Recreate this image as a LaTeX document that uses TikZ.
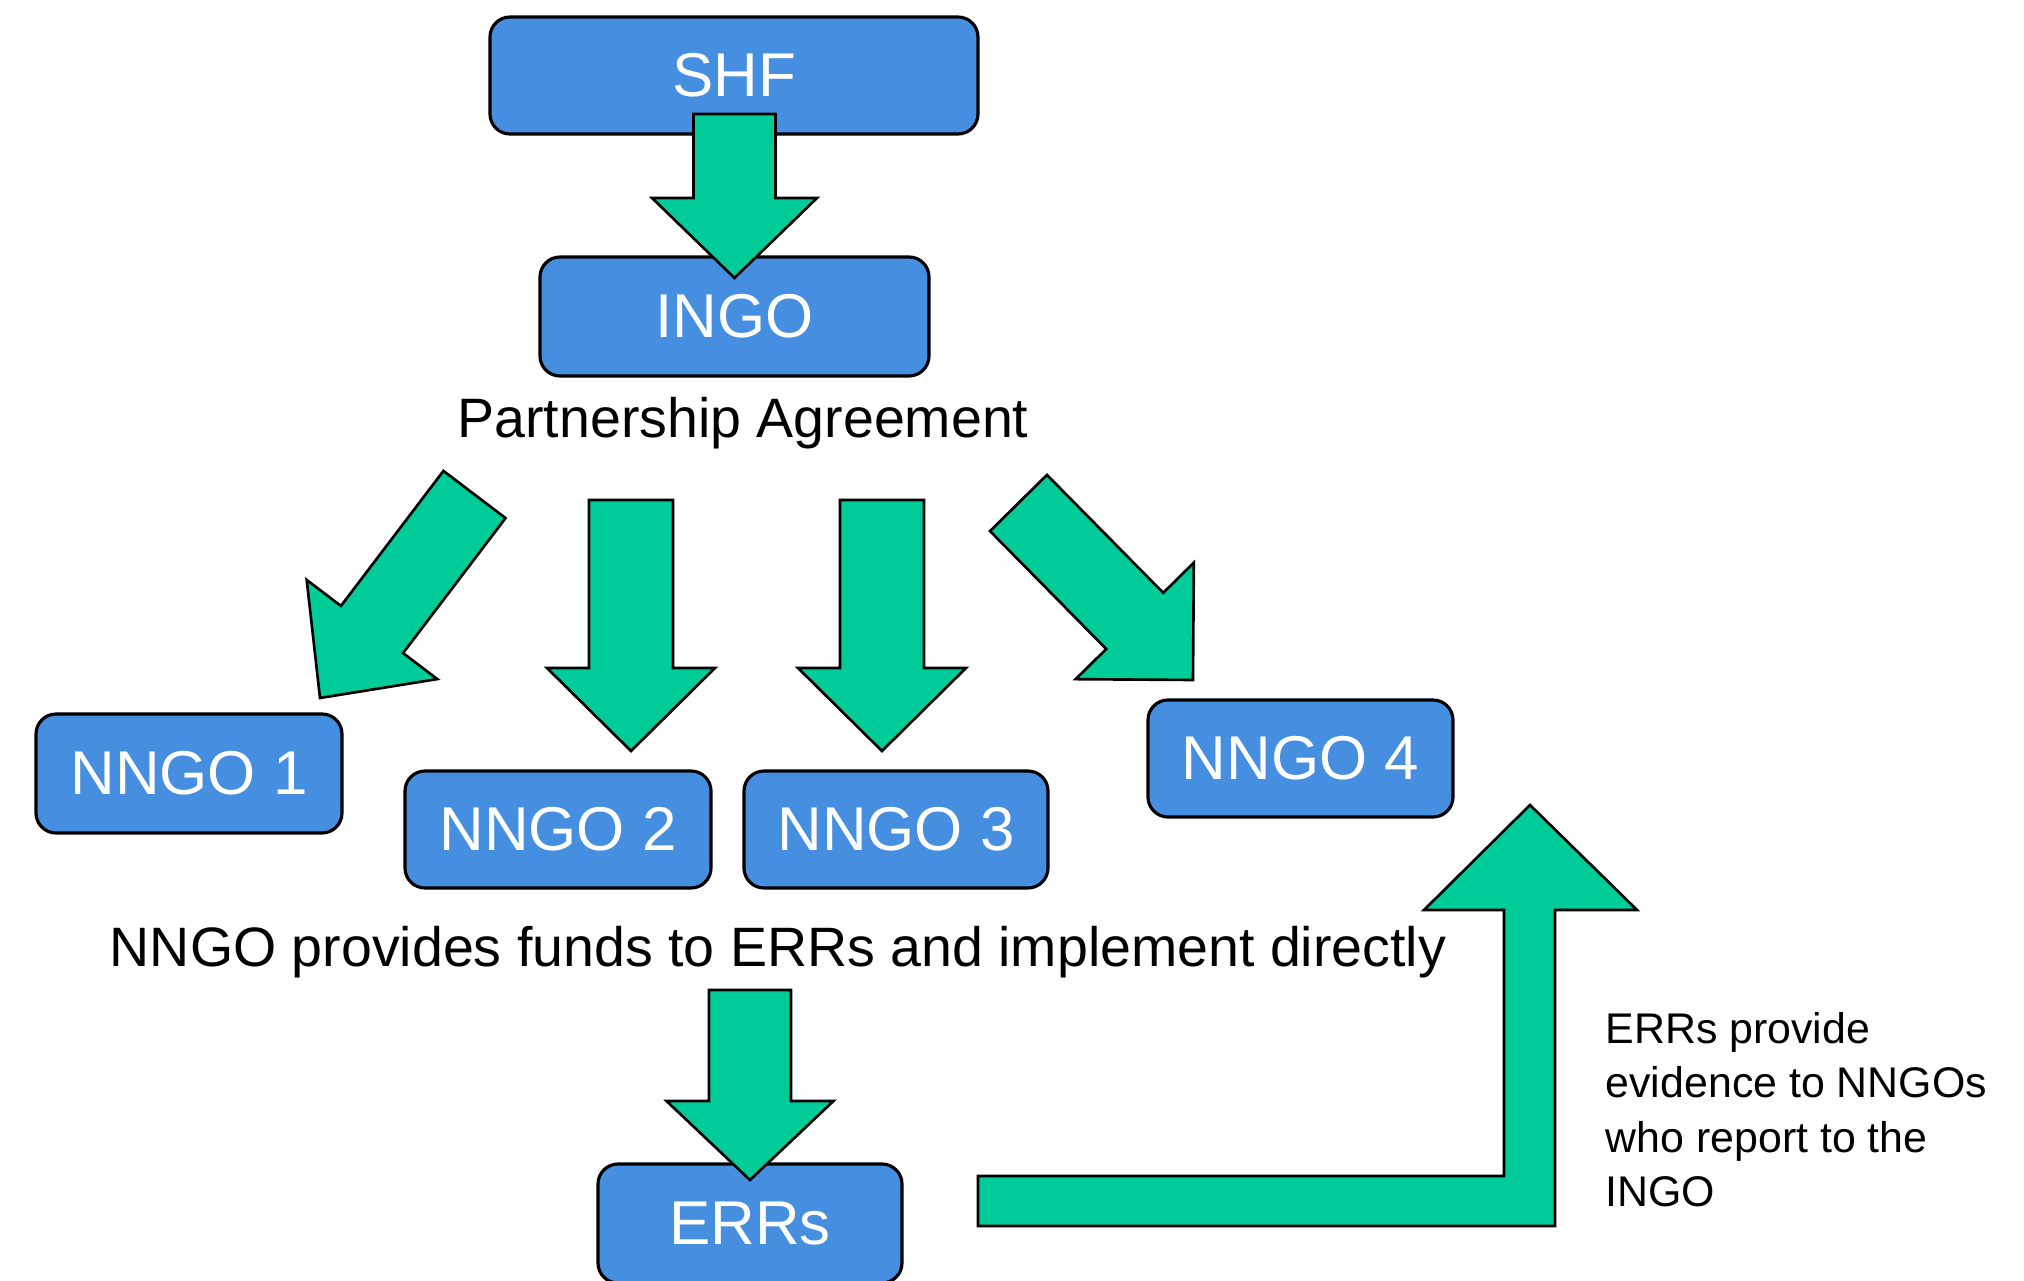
\documentclass[tikz,border=0pt]{standalone}
\usepackage{fontspec}
\setmainfont{Liberation Sans}
\usetikzlibrary{calc}
\definecolor{boxblue}{RGB}{69,142,224}
\definecolor{flowgreen}{RGB}{0,204,153}
\tikzset{
    orgbox/.style={draw=black, line width=0.9pt, fill=boxblue, rounded corners=2mm,
        text=white, inner sep=0pt, font=\fontsize{17.6}{21}\selectfont},
    flowarrow/.style={draw=black, line width=0.75pt, fill=flowgreen, line join=miter},
    caption/.style={inner sep=0pt, font=\fontsize{15.8}{19}\selectfont},
    sidenote/.style={inner sep=0pt, align=left, font=\fontsize{12.2}{15.4}\selectfont}
}
% fat arrow: tail, tip, shaft half width, head half width, head length
\NewDocumentCommand{\blockarrow}{ m m m m m }{
    \coordinate (ba-base) at ($(#2)!#5!(#1)$);
    \draw[flowarrow] ($(#1)!#3!90:(#2)$) -- ($(ba-base)!#3!90:(#2)$)
        -- ($(ba-base)!#4!90:(#2)$) -- (#2) -- ($(ba-base)!#4!-90:(#2)$)
        -- ($(ba-base)!#3!-90:(#2)$) -- ($(#1)!#3!-90:(#2)$) -- cycle;
}
\begin{document}
\begin{tikzpicture}[x=0.1mm, y=-0.1mm]
                    \path[use as bounding box, fill=white] (0,0) rectangle (2024,1281);
                    % boxes
                    \node[orgbox, minimum width=48.8mm, minimum height=11.7mm] (shf) at (734,75.5) {SHF};
                    \node[orgbox, minimum width=38.9mm, minimum height=11.9mm] (ingo) at (734.5,316.5) {INGO};
                    \node[orgbox, minimum width=30.6mm, minimum height=11.9mm] (nngo1) at (189,773.5) {NNGO 1};
                    \node[orgbox, minimum width=30.6mm, minimum height=11.7mm] (nngo2) at (558,829.5) {NNGO 2};
                    \node[orgbox, minimum width=30.4mm, minimum height=11.7mm] (nngo3) at (896,829.5) {NNGO 3};
                    \node[orgbox, minimum width=30.5mm, minimum height=11.7mm] (nngo4) at (1300.5,758.5) {NNGO 4};
                    \node[orgbox, minimum width=30.4mm, minimum height=11.9mm] (errs) at (750,1223.5) {ERRs};
                    % texts
                    \node[caption, anchor=base] (agreement) at (743,438) {Partnership Agreement};
                    \node[caption, anchor=base] (funds) at (778,966) {NNGO provides funds to ERRs and implement directly};
                    \node[sidenote, anchor=north west] (evidence) at (1605,1012)
                        {ERRs provide\\evidence to NNGOs\\who report to the\\INGO};
                    % arrow ends
                    \coordinate (shf-tail) at (734.5,114);
                    \coordinate (ingo-tip) at (734.5,278);
                    \coordinate (a1-tail) at (474.5,494.5);
                    \coordinate (a1-tip) at (320,698);
                    \coordinate (a2-tail) at (631,500);
                    \coordinate (a2-tip) at (631,751);
                    \coordinate (a3-tail) at (882,500);
                    \coordinate (a3-tip) at (882,751);
                    \coordinate (a4-tail) at (1018.5,503);
                    \coordinate (a4-tip) at (1193,680);
                    \coordinate (err-tail) at (750,990);
                    \coordinate (err-tip) at (750,1180);
                    \coordinate (ret-start) at (978,1201);
                    \coordinate (ret-tip) at (1530,805);
                    % arrows
                    \blockarrow{shf-tail}{ingo-tip}{4.1mm}{8.25mm}{8mm}
                    \blockarrow{a1-tail}{a1-tip}{3.9mm}{8.2mm}{8.6mm}
                    \blockarrow{a2-tail}{a2-tip}{4.2mm}{8.4mm}{8.3mm}
                    \blockarrow{a3-tail}{a3-tip}{4.2mm}{8.4mm}{8.3mm}
                    \blockarrow{a4-tail}{a4-tip}{4mm}{8.3mm}{8.3mm}
                    \blockarrow{err-tail}{err-tip}{4.1mm}{8.35mm}{7.9mm}
                    \draw[flowarrow] ($(ret-start)+(0,-25)$) -- ++(526,0) -- ++(0,-266) -- ++(-80,0)
                        -- (ret-tip) -- ++(107,105) -- ++(-82,0) -- ++(0,316) -- ++(-577,0) -- cycle;
                \end{tikzpicture}
\end{document}
